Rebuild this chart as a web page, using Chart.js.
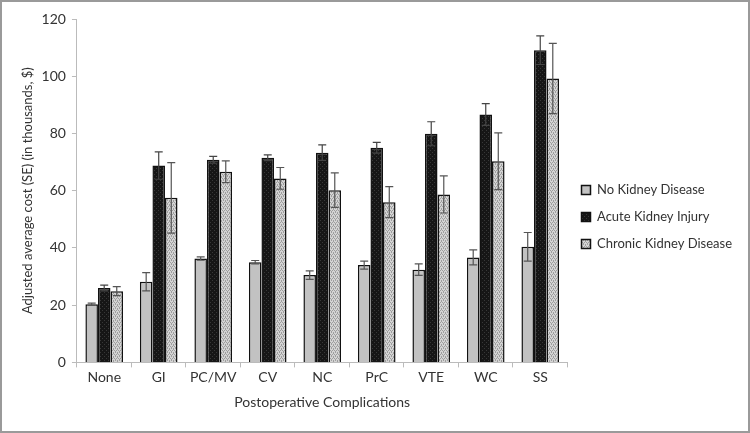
<!DOCTYPE html>
<html><head><meta charset="utf-8">
<script src="https://cdn.jsdelivr.net/npm/chart.js@4"></script>
<style>
html,body{margin:0;padding:0;background:#fff;}
#wrap{position:relative;width:750px;height:433px;box-sizing:border-box;border:2px solid #9a9a9a;}
canvas{display:block;}
</style></head><body>
<div id="wrap"><canvas id="c" width="746" height="429"></canvas></div>
<script>
const categories = ["None","GI","PC/MV","CV","NC","PrC","VTE","WC","SS"];
const noKidney   = [20.3, 28.2, 36.3, 35.0, 30.5, 34.0, 32.4, 36.7, 40.4];
const noKidneyErr= [0.4, 3.2, 0.6, 0.6, 1.5, 1.4, 2.0, 2.6, 5.0];
const aki        = [26.0, 68.8, 70.8, 71.5, 73.3, 75.0, 79.9, 86.6, 109.1];
const akiErr     = [1.0, 4.8, 1.2, 1.0, 2.7, 1.9, 4.2, 3.8, 5.0];
const ckd        = [24.9, 57.5, 66.6, 64.3, 60.2, 56.0, 58.7, 70.3, 99.2];
const ckdErr     = [1.6, 12.3, 3.8, 3.8, 6.0, 5.4, 6.5, 9.9, 12.3];
const seriesNames = ["No Kidney Disease","Acute Kidney Injury","Chronic Kidney Disease"];
const yTicks = {min:0, max:120, step:20};

function makePattern(base, dot, type){
  const p = document.createElement('canvas'); p.width = 4; p.height = 4;
  const g = p.getContext('2d');
  g.fillStyle = base; g.fillRect(0,0,4,4);
  g.fillStyle = dot;
  if(type==='check'){ g.fillRect(0,0,1,1); g.fillRect(2,0,1,1); g.fillRect(1,2,1,1); g.fillRect(3,2,1,1);
    g.fillRect(1,1,1,1); g.fillRect(3,3,1,1);}
  else { g.fillRect(0,0,1,1); g.fillRect(2,2,1,1); }
  return document.getElementById('c').getContext('2d').createPattern(p,'repeat');
}
const akiFill = makePattern('#161616','#383838','sparse');
const ckdFill = makePattern('#d4d4d4','#9e9e9e','check');

const errorBars = {
  id:'errorBars',
  afterDatasetsDraw(chart){
    const ctx = chart.ctx, y = chart.scales.y;
    const errs = [noKidneyErr, akiErr, ckdErr];
    chart.data.datasets.forEach((ds, di)=>{
      const meta = chart.getDatasetMeta(di);
      meta.data.forEach((bar, i)=>{
        const v = ds.data[i], e = errs[di][i];
        const yt = y.getPixelForValue(v+e), yb = y.getPixelForValue(v-e);
        ctx.save();
        ctx.strokeStyle = di===1 ? '#444' : '#555';
        ctx.lineWidth = 1.2;
        ctx.beginPath();
        ctx.moveTo(bar.x, yt); ctx.lineTo(bar.x, yb);
        ctx.moveTo(bar.x-4, yt); ctx.lineTo(bar.x+4, yt);
        ctx.moveTo(bar.x-4, yb); ctx.lineTo(bar.x+4, yb);
        ctx.stroke();
        ctx.restore();
      });
    });
  }
};

new Chart(document.getElementById('c'), {
  type:'bar',
  data:{
    labels: categories,
    datasets:[
      {label:seriesNames[0], data:noKidney, backgroundColor:'#c2c2c2', borderColor:'#111', borderWidth:1.5},
      {label:seriesNames[1], data:aki, backgroundColor:akiFill, borderColor:'#111', borderWidth:1.5},
      {label:seriesNames[2], data:ckd, backgroundColor:ckdFill, borderColor:'#111', borderWidth:1.5}
    ]
  },
  options:{
    responsive:false, animation:false,
    layout:{padding:{top:17, right:6, left:16, bottom:16}},
    datasets:{bar:{barPercentage:1.0, categoryPercentage:0.69}},
    scales:{
      x:{
        grid:{display:true, drawOnChartArea:false, color:'#bbb', tickLength:5, offset:true},
        border:{color:'#bbb'},
        ticks:{color:'#333', font:{family:'Lato', size:14}, padding:2},
        title:{display:true, text:'Postoperative Complications', color:'#333', font:{family:'Lato', size:14}, padding:{top:6}}
      },
      y:{
        min:yTicks.min, max:yTicks.max,
        grid:{display:true, drawOnChartArea:false, color:'#bbb', tickLength:5},
        border:{color:'#bbb'},
        ticks:{stepSize:yTicks.step, color:'#333', font:{family:'Lato', size:14}, padding:6},
        title:{display:true, text:'Adjusted average cost (SE) (in thousands, $)', color:'#333', font:{family:'Lato', size:13}, padding:{top:2, bottom:0}}
      }
    },
    plugins:{
      legend:{position:'right', align:'center',
        labels:{boxWidth:9, boxHeight:9, padding:14, color:'#333', font:{family:'Lato', size:13}}},
      tooltip:{enabled:false}
    }
  },
  plugins:[errorBars]
});
</script>
</body></html>
